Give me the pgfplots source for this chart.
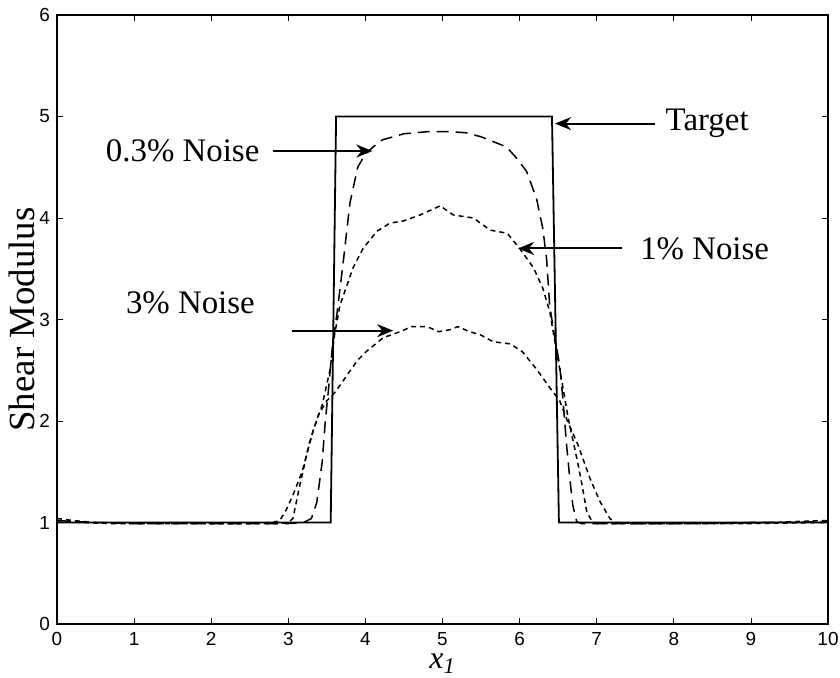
\documentclass[border=0pt]{standalone}
\usepackage{fontspec}
\setmainfont{Liberation Serif}
\setsansfont{Liberation Sans}
\usepackage{pgfplots}
\pgfplotsset{compat=1.18}
\usetikzlibrary{arrows.meta}
\begin{document}
\begin{tikzpicture}
\begin{axis}[
  scale only axis, width=385.5bp, height=304.5bp,
  xmin=0, xmax=10, ymin=0, ymax=6,
  xtick={0,1,...,10}, ytick={0,1,...,6},
  tick align=inside, major tick length=3bp,
  axis line style={line width=0.6bp},
  tick style={black, line width=0.4bp},
  ticklabel style={font=\sffamily\fontsize{9.5}{10}\selectfont},
  xticklabel style={yshift=-0.5bp},
  /pgf/number format/assume math mode=true,
  xlabel={{\itshape x\textsubscript{1}}},
  ylabel={Shear Modulus},
  xlabel style={at={(axis description cs:0.5,0)}, anchor=center, inner sep=0pt, yshift=-20bp, font=\fontsize{16}{18}\selectfont},
  ylabel style={at={(axis description cs:-0.046,0.5)}, anchor=center, inner sep=0pt, font=\fontsize{18.5}{20}\selectfont},
  clip=true,
]
% Target
\addplot[black, line width=0.9bp] coordinates {
 (0,1) (3.55,1) (3.62,5) (6.42,5) (6.51,1) (10,1)};
% 0.3% Noise
\addplot[black, line width=0.75bp, dash pattern=on 6bp off 3.5bp] coordinates {
 (0,1.02) (0.2,1.01) (0.5,1.00) (1.0,0.99) (1.5,0.99) (2.0,0.99) (2.5,0.99) (3.0,0.99)
 (3.2,1.0) (3.3,1.04) (3.37,1.2) (3.44,1.6) (3.48,2.0) (3.52,2.3) (3.57,2.72) (3.63,3.05)
 (3.71,3.55) (3.8,4.15) (3.9,4.5) (4.0,4.63) (4.1,4.7) (4.22,4.77) (4.5,4.83) (4.8,4.85)
 (5.1,4.85) (5.3,4.84) (5.5,4.8) (5.7,4.74) (5.83,4.7) (5.95,4.6) (6.09,4.46) (6.22,4.19)
 (6.3,3.9) (6.35,3.6) (6.39,3.14) (6.45,2.85) (6.52,2.55) (6.56,2.23) (6.61,1.76) (6.65,1.44)
 (6.69,1.17) (6.74,1.01) (6.8,0.99) (7.0,0.99) (8.0,0.99) (9.0,1.0) (9.5,1.0) (10,1.01)};
% 1% Noise
\addplot[black, line width=0.75bp, dash pattern=on 2.5bp off 2bp] coordinates {
 (0,1.02) (0.3,1.0) (0.7,0.99) (1.5,0.99) (2.5,0.99) (2.9,0.99) (3.0,1.0) (3.06,1.04)
 (3.15,1.37) (3.24,1.67) (3.32,1.9) (3.44,2.16) (3.54,2.5) (3.6,2.85) (3.67,3.14) (3.84,3.51)
 (3.97,3.70) (4.15,3.87) (4.32,3.95) (4.49,3.97) (4.71,4.03) (4.97,4.12) (5.14,4.03) (5.40,4.0)
 (5.62,3.88) (5.84,3.85) (6.0,3.70) (6.18,3.51) (6.30,3.31) (6.39,3.08) (6.5,2.6) (6.63,2.03)
 (6.74,1.64) (6.81,1.37) (6.87,1.11) (6.94,1.01) (7.0,0.99) (8,0.99) (9,0.99) (10,1.0)};
% 3% Noise
\addplot[black, line width=0.75bp, dash pattern=on 2.5bp off 2bp] coordinates {
 (0,1.04) (0.2,1.02) (0.5,1.0) (1.0,0.99) (1.6,1.0) (2.0,0.99) (2.5,0.99) (2.8,1.0)
 (2.89,1.02) (2.97,1.12) (3.06,1.27) (3.18,1.5) (3.28,1.8) (3.39,2.06) (3.5,2.2) (3.58,2.26)
 (3.67,2.35) (3.76,2.45) (3.9,2.6) (4.02,2.69) (4.23,2.82) (4.45,2.88) (4.6,2.93) (4.8,2.93)
 (4.95,2.88) (5.1,2.9) (5.2,2.93) (5.35,2.88) (5.49,2.85) (5.66,2.78) (5.88,2.76) (6.04,2.68)
 (6.23,2.5) (6.39,2.33) (6.52,2.2) (6.62,2.0) (6.76,1.76) (6.91,1.44) (7.04,1.21) (7.17,1.04)
 (7.24,1.0) (7.5,0.99) (8.5,0.99) (9.3,1.0) (9.6,1.01) (10,1.02)};
% annotations
\draw[black, line width=1bp, -{Stealth[length=8bp,width=6.5bp]}] (axis cs:7.76,4.93) -- (axis cs:6.46,4.93);
\node[anchor=west, font=\fontsize{16.5}{18}\selectfont, inner sep=0pt] at (axis cs:7.89,4.93) {Target};
\draw[black, line width=1bp, -{Stealth[length=8bp,width=6.5bp]}] (axis cs:2.8,4.66) -- (axis cs:4.09,4.66);
\node[anchor=center, font=\fontsize{16.5}{18}\selectfont, inner sep=0pt] at (axis cs:1.63,4.66) {0.3\% Noise};
\draw[black, line width=1bp, -{Stealth[length=8bp,width=6.5bp]}] (axis cs:7.33,3.70) -- (axis cs:5.98,3.70);
\node[anchor=center, font=\fontsize{16.5}{18}\selectfont, inner sep=0pt] at (axis cs:8.4,3.70) {1\% Noise};
\draw[black, line width=1bp, -{Stealth[length=8bp,width=6.5bp]}] (axis cs:3.05,2.89) -- (axis cs:4.36,2.89);
\node[anchor=center, font=\fontsize{16.5}{18}\selectfont, inner sep=0pt] at (axis cs:1.73,3.16) {3\% Noise};
\end{axis}
\pgfresetboundingbox
\path[use as bounding box] ([shift={(-28.5bp,-27bp)}]current axis.south west) rectangle ([shift={(6bp,7.5bp)}]current axis.north east);
\end{tikzpicture}
\end{document}
